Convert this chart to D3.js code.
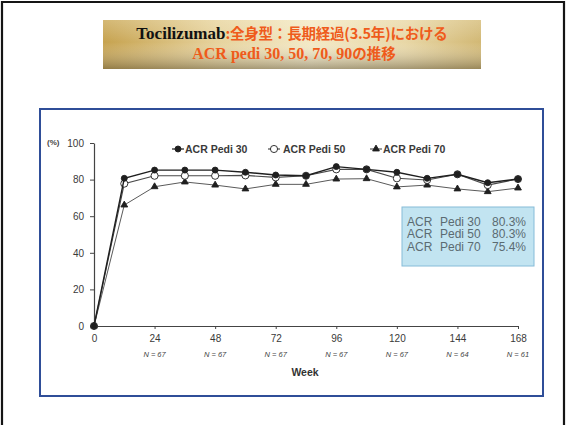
<!DOCTYPE html>
<html>
<head>
<meta charset="utf-8">
<script src="https://cdn.jsdelivr.net/npm/d3@7/dist/d3.min.js"></script>
<style>
  html, body { margin: 0; padding: 0; background: #fff; }
  svg { display: block; }
</style>
</head>
<body>
<svg id="chart" width="567" height="425"></svg>
<script>
// ---- data ----
const weeks = [0, 12, 24, 36, 48, 60, 72, 84, 96, 108, 120, 132, 144, 156, 168];
const pedi30 = [0, 80.7, 85.2, 85.2, 85.2, 84.0, 82.5, 82.1, 87.1, 85.6, 84.0, 80.7, 82.9, 78.3, 80.3];
const pedi50 = [0, 77.8, 82.1, 82.1, 82.1, 82.3, 81.2, 82.1, 85.6, 85.6, 80.7, 79.8, 82.9, 77.0, 80.3];
const pedi70 = [0, 66.1, 76.1, 78.7, 77.0, 74.9, 77.4, 77.4, 80.3, 80.5, 76.0, 77.0, 74.9, 73.4, 75.4];
const seriesNames = ["ACR Pedi 30", "ACR Pedi 50", "ACR Pedi 70"];
const xTicks = [0, 24, 48, 72, 96, 120, 144, 168];
const nLabels = ["", "N = 67", "N = 67", "N = 67", "N = 67", "N = 67", "N = 64", "N = 61"];
const yTicks = [0, 20, 40, 60, 80, 100];
const summaryRows = [["ACR", "Pedi 30", "80.3%"], ["ACR", "Pedi 50", "80.3%"], ["ACR", "Pedi 70", "75.4%"]];

const svg = d3.select("#chart");
const defs = svg.append("defs");

// banner gradients
const gH = defs.append("linearGradient").attr("id", "bannerH").attr("x1", 0).attr("x2", 1).attr("y1", 0).attr("y2", 0);
[["0%", "#c6a24e"], ["30%", "#e6d29c"], ["55%", "#f3e9c6"], ["80%", "#e8d7a6"], ["100%", "#d2b874"]]
  .forEach(([o, c]) => gH.append("stop").attr("offset", o).attr("stop-color", c));
const gV = defs.append("linearGradient").attr("id", "bannerV").attr("x1", 0).attr("x2", 0).attr("y1", 0).attr("y2", 1);
[["0%", "rgba(255,250,230,0.25)"], ["45%", "rgba(255,255,255,0)"], ["100%", "rgba(95,85,60,0.5)"]]
  .forEach(([o, c]) => gV.append("stop").attr("offset", o).attr("stop-color", c));

// outer slide border
svg.append("path").attr("d", "M2,425V2H564V425").attr("fill", "none").attr("stroke", "#151515").attr("stroke-width", 2.2);

// title banner
svg.append("rect").attr("x", 103).attr("y", 20).attr("width", 378).attr("height", 49).attr("fill", "url(#bannerH)");
svg.append("rect").attr("x", 103).attr("y", 20).attr("width", 378).attr("height", 49).attr("fill", "url(#bannerV)");

const t1 = svg.append("text").attr("x", 292).attr("y", 39).attr("text-anchor", "middle")
  .style("font-weight", "bold");
t1.append("tspan").text("Tocilizumab").attr("fill", "#111")
  .style("font-family", "'Liberation Serif', 'DejaVu Serif', serif").style("font-size", "17px");
t1.append("tspan").text(":全身型：長期経過(3.5年)における").attr("fill", "#ef5b1b")
  .style("font-family", "'Noto Sans CJK JP', sans-serif").style("font-size", "14.5px").attr("letter-spacing", "-0.2");

const t2 = svg.append("text").attr("x", 294).attr("y", 58.5).attr("text-anchor", "middle")
  .style("font-weight", "bold").attr("fill", "#ef5b1b");
t2.append("tspan").text("ACR pedi 30, 50, 70, 90")
  .style("font-family", "'Liberation Serif', 'DejaVu Serif', serif").style("font-size", "16px");
t2.append("tspan").text("の推移")
  .style("font-family", "'Noto Sans CJK JP', sans-serif").style("font-size", "14.5px");

// chart frame
svg.append("rect").attr("x", 40).attr("y", 109).attr("width", 503).attr("height", 287)
  .attr("fill", "#fff").attr("stroke", "#2f4e98").attr("stroke-width", 2);

// scales
const x = d3.scaleLinear().domain([0, 168]).range([94, 518]);
const y = d3.scaleLinear().domain([0, 100]).range([326, 143]);

const font = "Arial, 'Liberation Sans', sans-serif";

// axes
const yAxis = svg.append("g").attr("transform", `translate(${x(0)},0)`)
  .call(d3.axisLeft(y).tickValues(yTicks).tickSize(4).tickPadding(6).tickSizeOuter(0));
const xAxis = svg.append("g").attr("transform", `translate(0,${y(0)})`)
  .call(d3.axisBottom(x).tickValues(xTicks).tickSize(3).tickPadding(6).tickSizeOuter(0));
[yAxis, xAxis].forEach(a => {
  a.select(".domain").attr("stroke", "#444").attr("stroke-width", 1.2);
  a.selectAll(".tick line").attr("stroke", "#444");
  a.selectAll(".tick text").attr("fill", "#3a3a3a").style("font-family", font).style("font-size", "10px");
});

// N per visit
svg.append("g").selectAll("text").data(xTicks.map((w, i) => [w, nLabels[i]]).filter(d => d[1]))
  .join("text")
  .attr("x", d => x(d[0])).attr("y", 357).attr("text-anchor", "middle")
  .attr("fill", "#444").style("font-family", font).style("font-size", "7.5px").style("font-style", "italic")
  .text(d => d[1]);

svg.append("text").attr("x", 305).attr("y", 376).attr("text-anchor", "middle")
  .attr("fill", "#333").style("font-family", font).style("font-size", "10.5px").style("font-weight", "bold")
  .text("Week");
svg.append("text").attr("x", 47).attr("y", 145).attr("fill", "#444")
  .style("font-family", font).style("font-size", "8px").style("font-weight", "bold").text("(%)");

// series
const styles = [
  { values: pedi30, stroke: "#1f1f1f", width: 1.4, sym: d3.symbolCircle, size: 28, fill: "#1f1f1f" },
  { values: pedi50, stroke: "#4a4a4a", width: 1.1, sym: d3.symbolCircle, size: 40, fill: "#fff" },
  { values: pedi70, stroke: "#5a5a5a", width: 1.0, sym: d3.symbolTriangle, size: 20, fill: "#1f1f1f" }
];
const line = d3.line().x(d => x(d[0])).y(d => y(d[1]));

// draw lower series first so Pedi 30 sits on top
[2, 1, 0].forEach(i => {
  const s = styles[i];
  const pts = weeks.map((w, k) => [w, s.values[k]]);
  svg.append("path").datum(pts).attr("d", line)
    .attr("fill", "none").attr("stroke", s.stroke).attr("stroke-width", s.width);
  svg.append("g").selectAll("path").data(pts).join("path")
    .attr("transform", d => `translate(${x(d[0])},${y(d[1])})`)
    .attr("d", d3.symbol().type(s.sym).size(s.size))
    .attr("fill", s.fill).attr("stroke", "#1f1f1f").attr("stroke-width", 0.9);
});

// legend
const legendPos = [[172, 185], [268, 283], [370, 383]];
seriesNames.forEach((name, i) => {
  const s = styles[i];
  const [lx, tx] = legendPos[i];
  const g = svg.append("g");
  g.append("line").attr("x1", lx).attr("x2", lx + 12).attr("y1", 149).attr("y2", 149)
    .attr("stroke", s.stroke).attr("stroke-width", 1.2);
  g.append("path").attr("transform", `translate(${lx + 6},149)`)
    .attr("d", d3.symbol().type(s.sym).size(s.size))
    .attr("fill", s.fill).attr("stroke", "#1f1f1f").attr("stroke-width", 0.9);
  g.append("text").attr("x", tx).attr("y", 153).attr("fill", "#3a3a3a")
    .style("font-family", font).style("font-size", "10.5px").style("font-weight", "bold").text(name);
});

// final-visit summary box
svg.append("rect").attr("x", 402).attr("y", 207).attr("width", 132).attr("height", 59)
  .attr("fill", "#c2e4f1").attr("stroke", "#86bcd8").attr("stroke-width", 1);
const colX = [407, 440, 492];
summaryRows.forEach((row, r) => {
  row.forEach((cell, c) => {
    svg.append("text").attr("x", colX[c]).attr("y", 225.5 + r * 12.5)
      .attr("fill", "#5b6b72").style("font-family", font).style("font-size", "12px").text(cell);
  });
});
</script>
</body>
</html>
